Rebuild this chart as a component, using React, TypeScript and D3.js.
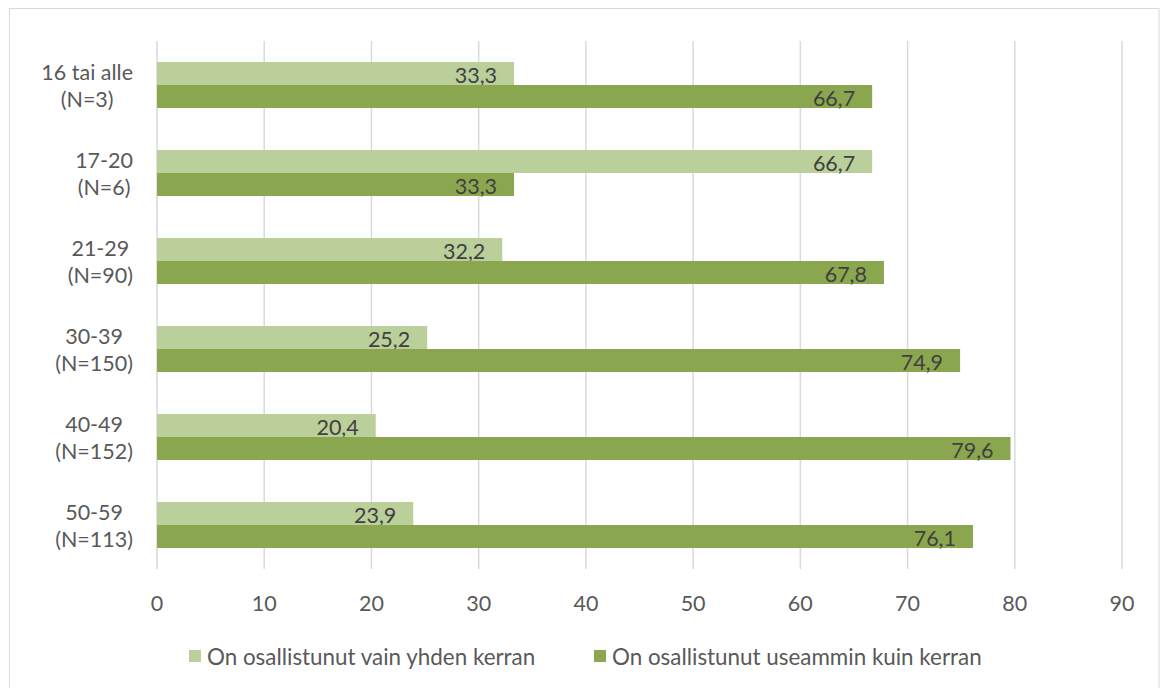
import React, { useEffect, useRef } from "react";
import * as d3 from "d3";

const categories: string[][] = [
  ["16 tai alle", "(N=3)"],
  ["17-20", "(N=6)"],
  ["21-29", "(N=90)"],
  ["30-39", "(N=150)"],
  ["40-49", "(N=152)"],
  ["50-59", "(N=113)"],
];
const seriesNames = ["On osallistunut vain yhden kerran", "On osallistunut useammin kuin kerran"];
const onceValues = [33.3, 66.7, 32.2, 25.2, 20.4, 23.9];
const moreValues = [66.7, 33.3, 67.8, 74.9, 79.6, 76.1];
const xTicks = [0, 10, 20, 30, 40, 50, 60, 70, 80, 90];
const colors = ["#bacf99", "#8aa64e"];

const FONT = "Lato, 'Open Sans', sans-serif";
const FS = 21.5;
const LEG_FS = 22.4;

export default function App() {
  const ref = useRef<SVGSVGElement | null>(null);

  useEffect(() => {
    const svg = d3.select(ref.current);
    svg.selectAll("*").remove();

    const left = 157, right = 1122, top = 41, bottom = 569;
    const x = d3.scaleLinear().domain([0, 90]).range([left, right]);
    const y = d3.scaleBand<number>().domain(d3.range(categories.length)).range([top, bottom]).paddingInner(0).paddingOuter(0);
    const barH = 23;

    // border
    svg.append("rect").attr("x", 9.5).attr("y", 8.5).attr("width", 1149.5).attr("height", 700)
      .attr("fill", "#fff").attr("stroke", "#d9d9d9").attr("stroke-width", 1);

    // gridlines
    svg.append("g").selectAll("line").data(xTicks).join("line")
      .attr("x1", (d) => x(d)).attr("x2", (d) => x(d))
      .attr("y1", top).attr("y2", bottom)
      .attr("stroke", "#d9d9d9").attr("stroke-width", 1.5);

    // tick labels
    svg.append("g").selectAll("text").data(xTicks).join("text")
      .attr("x", (d) => x(d)).attr("y", 603)
      .attr("text-anchor", "middle").attr("dominant-baseline", "central")
      .attr("font-family", FONT).attr("font-size", FS).attr("fill", "#595959")
      .text((d) => String(d));

    const series = [onceValues, moreValues];
    series.forEach((vals, si) => {
      const g = svg.append("g");
      g.selectAll("rect").data(vals).join("rect")
        .attr("x", x(0))
        .attr("y", (_d, i) => (y(i) as number) + y.bandwidth() / 2 - barH + si * barH)
        .attr("width", (d) => x(d) - x(0))
        .attr("height", barH)
        .attr("fill", colors[si]);
      g.selectAll("text").data(vals).join("text")
        .attr("x", (d) => x(d) - 17)
        .attr("y", (_d, i) => (y(i) as number) + y.bandwidth() / 2 - barH / 2 + si * barH + 1)
        .attr("text-anchor", "end").attr("dominant-baseline", "central")
        .attr("font-family", FONT).attr("font-size", FS).attr("fill", "#404040")
        .text((d) => d.toFixed(1).replace(".", ","));
    });

    // category labels: block right-aligned at 133, lines centered in block
    categories.forEach((lines, i) => {
      const cy = (y(i) as number) + y.bandwidth() / 2;
      const g = svg.append("g");
      const texts = lines.map((ln, li) =>
        g.append("text")
          .attr("y", cy + (li - (lines.length - 1) / 2) * 27)
          .attr("dominant-baseline", "central")
          .attr("text-anchor", "middle")
          .attr("font-family", FONT).attr("font-size", FS).attr("fill", "#595959")
          .text(ln)
      );
      const w = Math.max(...texts.map((t) => (t.node() as SVGTextElement).getComputedTextLength()));
      texts.forEach((t) => t.attr("x", 133 - w / 2));
    });

    // legend
    const legendY = 656;
    const legX = [189, 594];
    seriesNames.forEach((name, si) => {
      svg.append("rect").attr("x", legX[si]).attr("y", legendY - 6).attr("width", 12).attr("height", 12).attr("fill", colors[si]);
      svg.append("text").attr("x", legX[si] + 18).attr("y", legendY)
        .attr("dominant-baseline", "central")
        .attr("font-family", FONT).attr("font-size", LEG_FS).attr("fill", "#595959")
        .text(name);
    });
  }, []);

  return (
    <svg ref={ref} width={1161} height={688} style={{ position: "absolute", left: 0, top: 0, background: "#fff" }} />
  );
}
